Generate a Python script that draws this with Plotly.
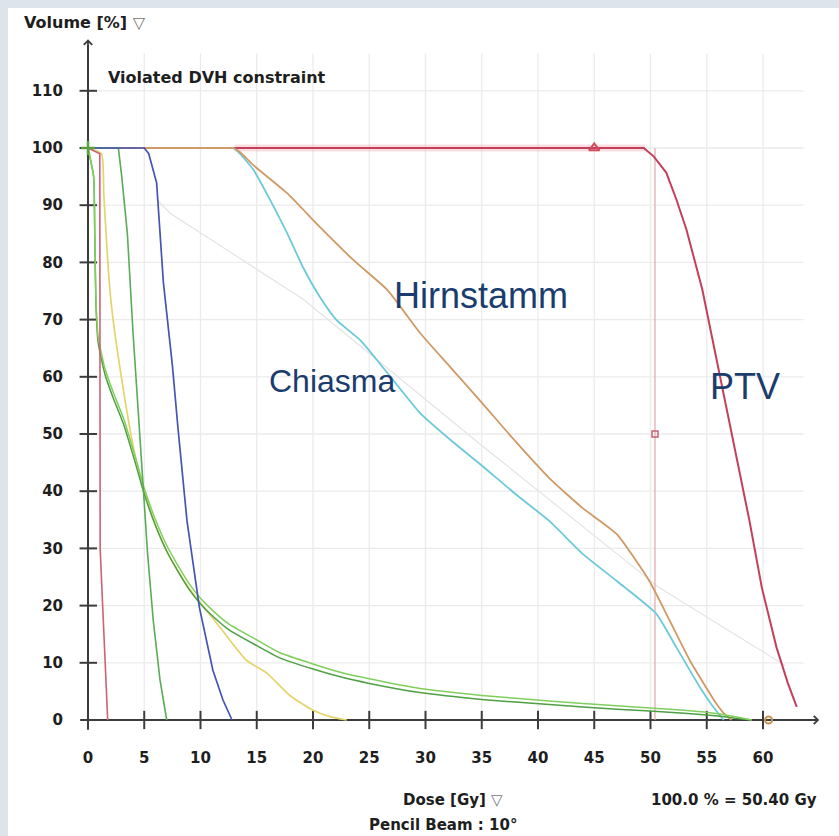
import plotly.graph_objects as go

# ---------------- data ----------------
ptv_dose = [0, 49.4, 50.3, 51.4, 52.3, 53.2, 54.6, 55.9, 57.2, 57.6, 58.8, 59.9, 61.2, 62.2, 63.0]
ptv_vol = [100, 100, 98.5, 95.7, 91, 85.7, 75.3, 62.6, 50.4, 46.4, 34.8, 23.1, 12.7, 6.5, 2.3]

red_dose = [0, 1.05, 1.08, 1.3, 1.5, 1.7, 1.75]
red_vol = [100, 99, 30, 20, 10, 1, 0]

blue_dose = [0, 5.0, 5.4, 6.1, 6.7, 7.5, 8.0, 8.8, 9.9, 11.1, 12.0, 12.8]
blue_vol = [100, 100, 99, 93.9, 76.5, 62, 51, 34.8, 19.7, 8.7, 3.5, 0]

green3_dose = [0, 2.7, 3.0, 3.5, 4.0, 4.6, 4.9, 5.3, 5.8, 6.4, 7.0]
green3_vol = [100, 100, 95, 85, 67.8, 50.4, 40.5, 29, 17.4, 7, 0]

yellow_dose = [0, 1.2, 1.4, 1.7, 2.0, 2.5, 3.2, 4.0, 5.0, 6.0, 7.0, 8.0, 9.0, 10.0, 11.0, 12.0, 14.1, 15.9, 18.0, 20.0, 21.5, 23.0]
yellow_vol = [100, 99, 92, 82, 74, 66, 57, 48, 40, 34, 29.5, 26, 23, 20.5, 18, 15.5, 10.4, 8.2, 4.2, 1.7, 0.6, 0]

greenA_dose = [0, 0.5, 0.6, 0.7, 0.9, 1.5, 2.2, 3.2, 4.2, 5, 6, 7, 8, 9, 10, 11, 12.5, 15, 17, 20, 22.5, 25, 29.5, 35, 41, 47, 53, 56, 58, 59]
greenA_vol = [100, 95, 85, 74, 67, 61.5, 57.5, 52.5, 46, 40.5, 35, 30.5, 27, 23.8, 21.3, 19.3, 16.8, 14, 11.8, 9.8, 8.3, 7.2, 5.5, 4.3, 3.3, 2.5, 1.7, 1.1, 0.4, 0]

greenB_dose = [0, 0.5, 0.6, 0.7, 0.9, 1.5, 2.2, 3.2, 4.2, 5, 6, 7, 8, 9, 10, 11, 12.5, 15, 17, 20, 22.5, 25, 29.5, 35, 41, 47, 53, 56, 58, 59]
greenB_vol = [100, 95, 85, 73, 66, 60.5, 56.5, 51.5, 45, 39.5, 34, 29.5, 26, 22.8, 20.3, 18.3, 15.8, 13, 10.9, 8.9, 7.5, 6.4, 4.8, 3.6, 2.7, 1.9, 1.2, 0.7, 0.2, 0]

hirn_dose = [0, 12.2, 12.9, 13.5, 14.7, 17.7, 20.6, 23.6, 26.6, 29.5, 32.2, 35.0, 38.0, 41.0, 44.0, 47.0, 49.9, 51.7, 53.5, 55.0, 55.8, 56.5, 57.2]
hirn_vol = [100, 100, 100, 99.3, 97, 92.1, 86.2, 80.4, 75.2, 67.7, 61.7, 55.5, 48.7, 42.3, 37, 32.5, 24.3, 17.4, 10.4, 5.5, 3, 1.2, 0]

chi_dose = [0, 12.2, 12.9, 13.5, 14.7, 16.2, 17.7, 19.1, 20.6, 22.1, 24.2, 26.6, 29.5, 32.2, 35.0, 38.0, 41.0, 44.0, 47.0, 50.5, 52.3, 54.4, 55.5, 56.5]
chi_vol = [100, 100, 100, 99, 96.2, 90.9, 85.1, 79.2, 74, 69.9, 66.4, 60.7, 53.7, 49, 44.5, 39.5, 34.8, 29, 24.3, 18.6, 12.7, 5.7, 2.5, 0]

faint_dose = [6.1, 7.3, 19.1, 35, 50.8, 59.7, 62.0]
faint_vol = [91, 88.6, 73.6, 48, 23.1, 12.2, 9.5]

ref_dose = 50.4
x_ticks = [0, 5, 10, 15, 20, 25, 30, 35, 40, 45, 50, 55, 60]
y_ticks = [0, 10, 20, 30, 40, 50, 60, 70, 80, 90, 100, 110]

# ---------------- layout geometry ----------------
W, H = 839, 836
L, R, T, B = 76, 830, 30, 742
X0PX, GYPX = 88, 11.25
Y0PX, PCTPX = 720, 5.72
xrange = [(L - X0PX) / GYPX, (R - X0PX) / GYPX]
yrange = [(Y0PX - B) / PCTPX, (Y0PX - T) / PCTPX]


def pxx(p):
    return (p - L) / (R - L)


def pxy(p):
    return (B - p) / (B - T)


fig = go.Figure()


def line(x, y, color, width=1.7, smooth=False):
    ln = dict(color=color, width=width)
    if smooth:
        ln.update(shape="spline", smoothing=0.5)
    fig.add_trace(go.Scatter(x=x, y=y, mode="lines", line=ln,
                             hoverinfo="skip", showlegend=False))


# faint objective line
line(faint_dose, faint_vol, "#e4e4e4", 1.2)
# reference dose line
line([ref_dose, ref_dose], [0, 100], "#e2a4ac", 1.2)
# PTV halo + curve
line([13, 49.5], [100, 100], "rgba(240,160,170,0.35)", 7)
line(ptv_dose, ptv_vol, "#c4405a", 2)
line(chi_dose, chi_vol, "#6ccad8", 1.8, True)
line(hirn_dose, hirn_vol, "#d09a66", 1.8, True)
line(yellow_dose, yellow_vol, "#e4d46c", 1.7, True)
line(greenB_dose, greenB_vol, "#4f9f45", 1.5, True)
line(greenA_dose, greenA_vol, "#80cf5c", 1.5, True)
line(green3_dose, green3_vol, "#5aab58", 1.6)
line(blue_dose, blue_vol, "#4654b4", 1.7)
line(red_dose, red_vol, "#d06078", 1.6)

# markers
fig.add_trace(go.Scatter(x=[45], y=[100], mode="markers", showlegend=False, hoverinfo="skip",
                         marker=dict(symbol="triangle-up-open", size=9, color="#d04a5a", line=dict(width=2))))
fig.add_trace(go.Scatter(x=[ref_dose], y=[50], mode="markers", showlegend=False, hoverinfo="skip",
                         marker=dict(symbol="square-open", size=6, color="#c86070", line=dict(width=1.5))))
fig.add_trace(go.Scatter(x=[0], y=[100], mode="markers", showlegend=False, hoverinfo="skip",
                         marker=dict(symbol="cross-thin-open", size=10, color="#5aa040", line=dict(width=2.5))))
fig.add_trace(go.Scatter(x=[60.5], y=[0], mode="markers", showlegend=False, hoverinfo="skip",
                         marker=dict(symbol="circle-open", size=7, color="#c89050", line=dict(width=2))))

shapes = []
# white panel over grey frame
shapes.append(dict(type="rect", xref="paper", yref="paper", x0=pxx(8), x1=pxx(860), y0=pxy(860), y1=pxy(8),
                   fillcolor="white", line=dict(width=0), layer="below"))
# grid
for v in x_ticks[1:]:
    shapes.append(dict(type="line", xref="x", yref="y", x0=v, x1=v, y0=0, y1=116.5,
                       line=dict(color="#ebebeb", width=1.3), layer="below"))
for v in y_ticks[1:]:
    shapes.append(dict(type="line", xref="x", yref="y", x0=0, x1=63.6, y0=v, y1=v,
                       line=dict(color="#ebebeb", width=1.3), layer="below"))
# axes
AX = "#3c3c3c"
shapes.append(dict(type="line", xref="x", yref="y", x0=0, x1=0, y0=-1.7, y1=118,
                   line=dict(color=AX, width=2), layer="below"))
shapes.append(dict(type="line", xref="x", yref="y", x0=-0.7, x1=64.5, y0=0, y1=0,
                   line=dict(color=AX, width=2), layer="below"))
for v in y_ticks[1:]:
    shapes.append(dict(type="line", xref="x", yref="y", x0=-0.75, x1=0.8, y0=v, y1=v,
                       line=dict(color=AX, width=2), layer="below"))
for v in x_ticks[1:]:
    shapes.append(dict(type="line", xref="x", yref="y", x0=v, x1=v, y0=-1.6, y1=1.6,
                       line=dict(color=AX, width=2), layer="below"))

BOLD = dict(family="DejaVu Sans", size=15, color="#1e1e1e", weight="bold")
NAVY = "#1b3d6d"
ann = []
# axis arrows
ann.append(dict(x=0, y=119, ax=0, ay=113, xref="x", yref="y", axref="x", ayref="y", text="",
                showarrow=True, arrowhead=4, arrowsize=0.9, arrowwidth=1.8, arrowcolor=AX))
ann.append(dict(x=65.0, y=0, ax=62.5, ay=0, xref="x", yref="y", axref="x", ayref="y", text="",
                showarrow=True, arrowhead=4, arrowsize=0.9, arrowwidth=1.8, arrowcolor=AX))
# texts
ann.append(dict(x=pxx(22), y=pxy(23), xref="paper", yref="paper", text="Volume [%] <span style='font-weight:normal;color:#777'>▽</span>",
                showarrow=False, xanchor="left", yanchor="middle", font=dict(BOLD, size=16)))
ann.append(dict(x=pxx(106), y=pxy(77), xref="paper", yref="paper", text="Violated DVH constraint",
                showarrow=False, xanchor="left", yanchor="middle", font=dict(BOLD, size=16)))
ann.append(dict(x=pxx(453), y=pxy(800), xref="paper", yref="paper", text="Dose [Gy] <span style='font-weight:normal;color:#777'>▽</span>",
                showarrow=False, xanchor="center", yanchor="middle", font=BOLD))
ann.append(dict(x=pxx(443), y=pxy(825), xref="paper", yref="paper", text="Pencil Beam : 10°",
                showarrow=False, xanchor="center", yanchor="middle", font=BOLD))
ann.append(dict(x=pxx(734), y=pxy(800), xref="paper", yref="paper", text="100.0 % = 50.40 Gy",
                showarrow=False, xanchor="center", yanchor="middle", font=BOLD))
ann.append(dict(x=(481 - X0PX) / GYPX, y=(Y0PX - 295) / PCTPX, xref="x", yref="y", text="Hirnstamm",
                showarrow=False, font=dict(family="Liberation Sans", size=36, color=NAVY)))
ann.append(dict(x=(332 - X0PX) / GYPX, y=(Y0PX - 381) / PCTPX, xref="x", yref="y", text="Chiasma",
                showarrow=False, font=dict(family="Liberation Sans", size=32, color=NAVY)))
ann.append(dict(x=(745 - X0PX) / GYPX, y=(Y0PX - 386) / PCTPX, xref="x", yref="y", text="PTV",
                showarrow=False, font=dict(family="Liberation Sans", size=36, color=NAVY)))

fig.update_layout(
    width=W, height=H,
    margin=dict(l=L, r=W - R, t=T, b=H - B),
    paper_bgcolor="#dde4ec", plot_bgcolor="white",
    shapes=shapes, annotations=ann, showlegend=False,
    xaxis=dict(range=xrange, showgrid=False, zeroline=False, showline=False, ticks="",
               tickmode="array", tickvals=x_ticks, ticktext=[str(v) for v in x_ticks],
               tickfont=BOLD, ticklabelstandoff=5, fixedrange=True),
    yaxis=dict(range=yrange, showgrid=False, zeroline=False, showline=False, ticks="",
               tickmode="array", tickvals=y_ticks, ticktext=[str(v) for v in y_ticks],
               tickfont=BOLD, ticklabelstandoff=12, fixedrange=True),
)

fig.write_html("out.html")
